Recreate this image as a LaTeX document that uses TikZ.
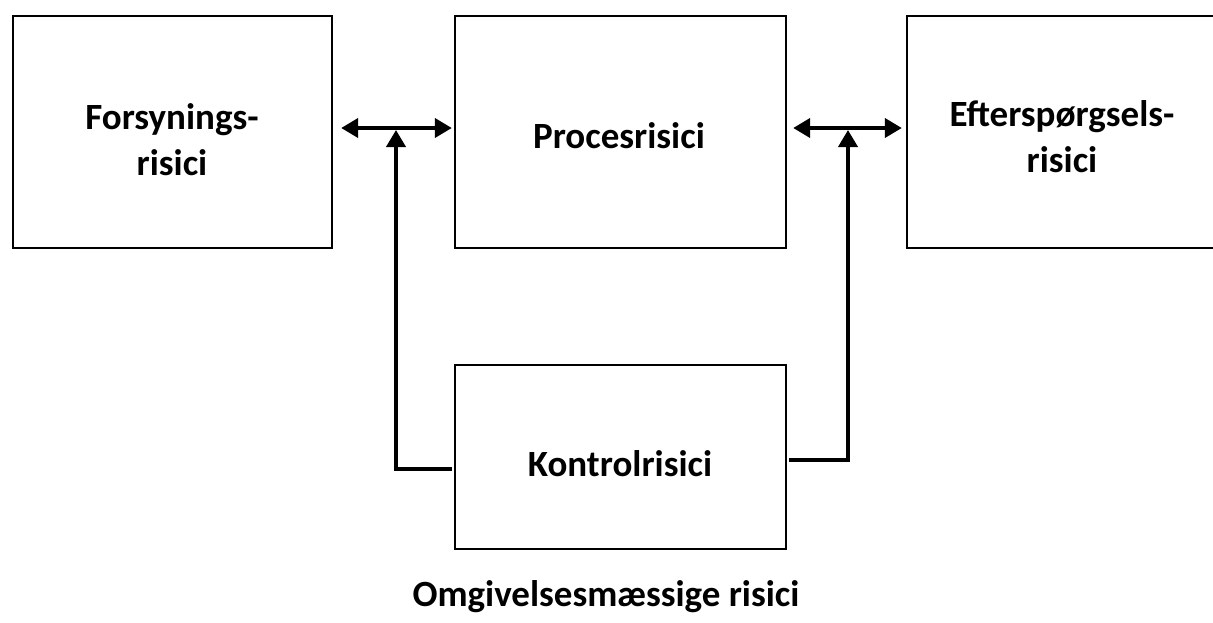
\documentclass[tikz,border=0pt]{standalone}
\usepackage{fontspec}
\setmainfont{Carlito}
\usetikzlibrary{arrows.meta,calc}
\begin{document}
\begin{tikzpicture}[x=1pt,y=-1pt,
  box/.style={draw,line width=2.3pt,minimum width=#1,minimum height=232pt,inner sep=0pt},
  lbl/.style={font=\fontsize{37}{46}\selectfont\bfseries,align=center,inner sep=0pt},
  conn/.style={line width=3.8pt},
  dbl/.style={conn,{Triangle[length=17pt,width=19pt]}-{Triangle[length=17pt,width=19pt]}},
  up/.style={conn,-{Triangle[length=17pt,width=19pt]}}]
\clip (0,0) rectangle (1213,622);
\fill[white] (0,0) rectangle (1213,622);
\node[box=319pt] (L) at (172.5,132) {};
\node[box=331pt] (P) at (620.5,132) {};
\node[box=331pt] (R) at (1072.5,132) {};
\node[draw,line width=2.3pt,minimum width=331pt,minimum height=184pt,inner sep=0pt] (K) at (620.5,457) {};
\node[lbl] (Lt) at (172,140) {Forsynings-\\risici};
\node[lbl] (Pt) at (619,136) {Procesrisici};
\node[lbl] (Rt) at (1062,137) {Efterspørgsels-\\risici};
\node[lbl] (Kt) at (620,464) {Kontrolrisici};
\node[lbl] (Ot) at (606,597) {Omgivelsesmæssige risici};
\draw[dbl,shorten <=8pt,shorten >=2pt] ($(L.east)+(0,-4)$) -- ($(P.west)+(0,-4)$) coordinate[pos=0.47] (j1);
\draw[dbl,shorten <=6pt,shorten >=4pt] ($(P.east)+(0,-4)$) -- ($(R.west)+(0,-4)$) coordinate[pos=0.5] (j2);
\coordinate (a1) at ($(K.west)+(0,12)$);
\coordinate (a2) at ($(K.east)+(0,3)$);
\draw[up,shorten <=2pt] (a1) -- (396,0 |- a1) -- ($(396,0 |- j1)+(0,2)$);
\draw[up,shorten <=2pt] (a2) -- (848,0 |- a2) -- ($(848,0 |- j2)+(0,2)$);
\end{tikzpicture}
\end{document}
